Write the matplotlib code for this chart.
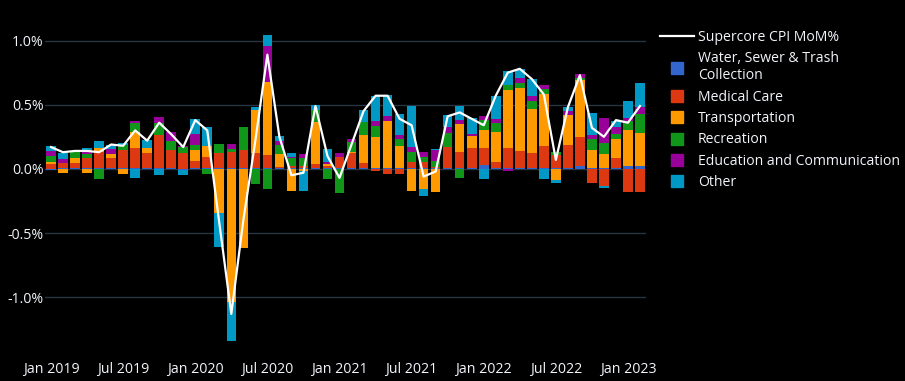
import matplotlib
matplotlib.use("Agg")
import matplotlib.pyplot as plt
import numpy as np
from matplotlib.lines import Line2D

plt.rcParams['font.family'] = ['Open Sans', 'DejaVu Sans']

months = ["Jan 2019", "Feb 2019", "Mar 2019", "Apr 2019", "May 2019", "Jun 2019",
          "Jul 2019", "Aug 2019", "Sep 2019", "Oct 2019", "Nov 2019", "Dec 2019",
          "Jan 2020", "Feb 2020", "Mar 2020", "Apr 2020", "May 2020", "Jun 2020",
          "Jul 2020", "Aug 2020", "Sep 2020", "Oct 2020", "Nov 2020", "Dec 2020",
          "Jan 2021", "Feb 2021", "Mar 2021", "Apr 2021", "May 2021", "Jun 2021",
          "Jul 2021", "Aug 2021", "Sep 2021", "Oct 2021", "Nov 2021", "Dec 2021",
          "Jan 2022", "Feb 2022", "Mar 2022", "Apr 2022", "May 2022", "Jun 2022",
          "Jul 2022", "Aug 2022", "Sep 2022", "Oct 2022", "Nov 2022", "Dec 2022",
          "Jan 2023", "Feb 2023"]

water = [-0.01, 0.005, 0.005, 0.005, 0.005, 0.005, 0.005, 0.005, 0.005, 0.005, 0.005, -0.01,
         0.005, 0.005, 0.005, 0.005, 0.005, 0.005, 0.005, 0.005, 0.005, 0.005, 0.005, 0.005,
         0.005, 0.01, 0.005, 0.005, 0.005, 0.005, 0.01, 0.01, 0.005, 0.01, 0.01, 0.005,
         0.03, 0.01, 0.005, 0.01, 0.01, 0.01, 0.005, 0.01, 0.02, 0.005, 0.005, 0.005,
         0.02, 0.02]
medical = [0.04, 0.04, 0.04, 0.08, 0.13, 0.08, 0.14, 0.155, 0.12, 0.26, 0.14, 0.12,
           0.06, 0.09, 0.12, 0.13, 0.14, 0.12, 0.10, 0.01, 0.02, 0.02, 0.03, 0.02,
           0.09, 0.11, 0.04, -0.02, -0.04, -0.04, 0.04, 0.04, 0.01, 0.16, 0.12, 0.16,
           0.13, 0.04, 0.16, 0.13, 0.11, 0.17, 0.10, 0.18, 0.23, -0.11, -0.13, 0.08,
           -0.18, -0.18]
transportation = [0.01, -0.03, 0.04, -0.03, 0.03, 0.03, -0.04, 0.13, 0.04, 0.0, 0.0, 0.0,
                  0.08, 0.08, -0.34, -1.04, -0.62, 0.33, 0.57, 0.10, -0.17, -0.02, 0.33, 0.01,
                  0.0, 0.01, 0.22, 0.24, 0.37, 0.17, -0.17, -0.16, -0.18, 0.0, 0.22, 0.09,
                  0.14, 0.24, 0.45, 0.49, 0.35, 0.40, -0.09, 0.23, 0.44, 0.14, 0.11, 0.15,
                  0.28, 0.26]
recreation = [0.05, 0.0, 0.05, 0.03, -0.08, 0.0, 0.04, 0.065, 0.0, 0.09, 0.07, 0.05,
              0.04, -0.04, 0.07, 0.02, 0.18, -0.12, -0.16, 0.07, 0.06, 0.06, 0.09, -0.08,
              -0.19, 0.08, 0.10, 0.09, 0.0, 0.06, 0.085, 0.04, 0.05, 0.11, -0.07, 0.0,
              0.08, 0.07, 0.04, 0.04, 0.06, 0.04, 0.03, 0.0, 0.02, 0.09, 0.09, 0.04,
              0.07, 0.15]
education = [0.04, 0.03, 0.0, 0.03, 0.0, 0.04, 0.0, 0.02, 0.0, 0.05, 0.07, 0.01,
             0.09, 0.0, 0.0, 0.04, 0.0, 0.0, 0.28, 0.03, 0.01, 0.03, 0.0, 0.02,
             0.03, 0.02, 0.0, 0.04, 0.04, 0.03, 0.035, 0.04, 0.08, 0.05, 0.03, 0.02,
             0.03, 0.03, -0.02, 0.04, 0.04, 0.03, 0.0, 0.03, 0.03, 0.03, 0.19, 0.05,
             0.03, 0.05]
other = [0.04, 0.05, 0.0, 0.02, 0.05, 0.03, 0.02, -0.07, 0.06, -0.05, 0.0, -0.04,
         0.11, 0.15, -0.27, -0.30, 0.0, 0.03, 0.09, 0.04, 0.03, -0.15, 0.04, 0.10,
         0.0, 0.0, 0.09, 0.19, 0.16, 0.16, 0.32, -0.05, 0.01, 0.09, 0.11, 0.12,
         -0.08, 0.18, 0.11, 0.07, 0.13, -0.08, -0.02, 0.03, 0.0, 0.17, -0.02, 0.05,
         0.13, 0.19]
supercore = [0.17, 0.13, 0.14, 0.14, 0.13, 0.19, 0.18, 0.30, 0.22, 0.36, 0.27, 0.17,
             0.38, 0.30, -0.42, -1.13, -0.40, 0.22, 0.89, 0.25, -0.05, -0.03, 0.49, 0.10,
             -0.07, 0.19, 0.45, 0.57, 0.57, 0.39, 0.34, -0.06, -0.02, 0.41, 0.44, 0.39,
             0.34, 0.57, 0.75, 0.78, 0.70, 0.58, 0.07, 0.48, 0.73, 0.32, 0.25, 0.38,
             0.36, 0.49]

series_names = ["Water, Sewer & Trash\nCollection", "Medical Care", "Transportation",
                "Recreation", "Education and Communication", "Other"]
series_values = [water, medical, transportation, recreation, education, other]
colors = ["#3366CC", "#DC3912", "#FF9900", "#109618", "#990099", "#0099C6"]

W, H = 905, 381
fig = plt.figure(figsize=(W / 100, H / 100), dpi=100)
fig.patch.set_facecolor("black")
ax = fig.add_axes([45 / W, 1 - 355 / H, (646 - 45) / W, (355 - 20) / H])
ax.set_facecolor("black")

x = np.arange(len(months))
pos_base = np.zeros(len(x))
neg_base = np.zeros(len(x))
for vals, col in zip(series_values, colors):
    v = np.array(vals, dtype=float)
    base = np.where(v >= 0, pos_base, neg_base)
    ax.bar(x, v, bottom=base, width=0.8, color=col, linewidth=0, zorder=2)
    pos_base = pos_base + np.where(v >= 0, v, 0)
    neg_base = neg_base + np.where(v < 0, v, 0)

ax.plot(x, supercore, color="white", linewidth=1.6, zorder=3)

ax.set_xlim(-0.5, len(x) - 0.5)
ax.set_ylim(-1.45, 1.16)

yt = [-1.0, -0.5, 0.0, 0.5, 1.0]
ax.set_yticks(yt)
ax.set_yticklabels([f"{v:.1f}%" for v in yt])
xt = list(range(0, len(x), 6))
ax.set_xticks(xt)
ax.set_xticklabels([months[i] for i in xt])

ax.grid(axis="y", color="#283442", linewidth=1, zorder=0)
ax.set_axisbelow(True)
for s in ax.spines.values():
    s.set_visible(False)
ax.tick_params(axis="both", length=0, colors="#f2f5fa", labelsize=10.2)
ax.tick_params(axis="y", pad=1)
ax.tick_params(axis="x", pad=5)

handles = [Line2D([0], [0], color="white", linewidth=1.6)]
labels = ["Supercore CPI MoM%"]
for name, col in zip(series_names, colors):
    handles.append(Line2D([0], [0], marker="s", linestyle="none", markersize=8,
                          markerfacecolor=col, markeredgecolor=col))
    labels.append(name)
leg = fig.legend(handles, labels, loc="upper left", bbox_to_anchor=(660 / W, 1 - 30 / H),
                 frameon=False, fontsize=10.1, labelcolor="#f2f5fa",
                 handlelength=2.4, handletextpad=0.3, labelspacing=0.46,
                 borderaxespad=0, borderpad=0)
for t in leg.get_texts():
    t.set_linespacing(1.15)

fig.savefig("out.png", dpi=100, facecolor="black")
